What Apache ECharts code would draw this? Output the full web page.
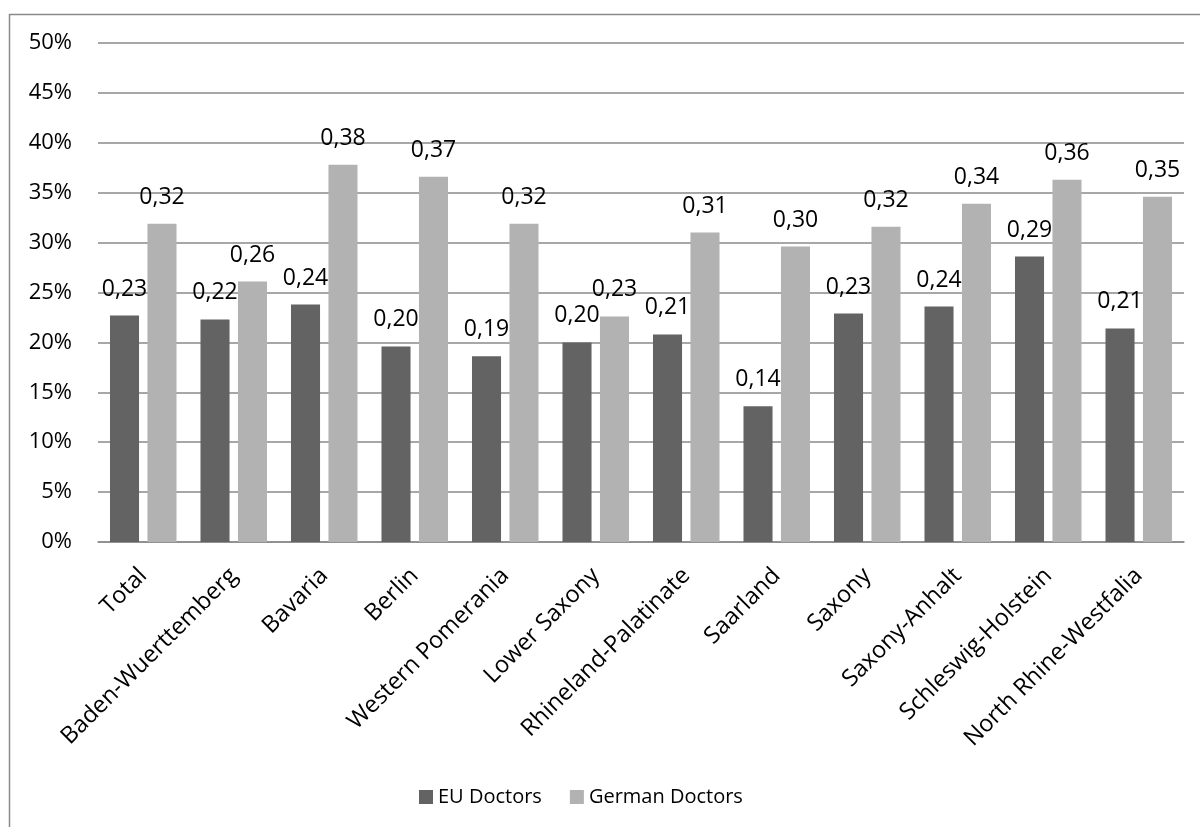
<!DOCTYPE html>
<html>
<head>
<meta charset="utf-8">
<script src="https://cdn.jsdelivr.net/npm/echarts@6/dist/echarts.min.js"></script>
<style>
  html, body { margin: 0; padding: 0; background: #fff; }
  #chart { width: 1200px; height: 827px; }
</style>
</head>
<body>
<div id="chart"></div>
<script>
const states = [
  "Total", "Baden-Wuerttemberg", "Bavaria", "Berlin", "Western Pomerania",
  "Lower Saxony", "Rhineland-Palatinate", "Saarland", "Saxony",
  "Saxony-Anhalt", "Schleswig-Holstein", "North Rhine-Westfalia"
];
const euDoctors = [0.227, 0.223, 0.238, 0.196, 0.186, 0.200, 0.208, 0.136, 0.229, 0.236, 0.286, 0.214];
const germanDoctors = [0.319, 0.261, 0.378, 0.366, 0.319, 0.226, 0.310, 0.296, 0.316, 0.339, 0.363, 0.346];
const yTicks = { min: 0, max: 0.5, interval: 0.05 };

const font = "Open Sans";
const labelStyle = {
  show: true,
  position: "top",
  distance: 15,
  color: "#000",
  fontFamily: font,
  fontSize: 23,
  formatter: (p) => p.value.toFixed(2).replace(".", ",")
};

const chart = echarts.init(document.getElementById("chart"));
chart.setOption({
  animation: false,
  textStyle: { fontFamily: font },
  graphic: [
    {
      type: "rect",
      shape: { x: 9.5, y: 14.5, width: 1400, height: 1000 },
      style: { fill: "none", stroke: "#8a8a8a", lineWidth: 1.5 },
      silent: true
    }
  ],
  grid: { left: 98, right: 16, top: 43, bottom: 285 },
  legend: {
    left: 414,
    top: 782,
    itemWidth: 14,
    itemHeight: 14,
    itemGap: 28,
    icon: "rect",
    textStyle: { fontFamily: font, fontSize: 20, color: "#000" },
    data: ["EU Doctors", "German Doctors"]
  },
  xAxis: {
    type: "category",
    data: states,
    axisLine: { lineStyle: { color: "#8a8a8a", width: 1.5 } },
    axisTick: { show: false },
    axisLabel: {
      rotate: 45,
      interval: 0,
      margin: 30,
      color: "#000",
      fontFamily: font,
      fontSize: 23.5
    }
  },
  yAxis: {
    type: "value",
    min: yTicks.min,
    max: yTicks.max,
    interval: yTicks.interval,
    axisLine: { show: false },
    axisTick: { show: false },
    splitLine: { lineStyle: { color: "#8a8a8a", width: 1.5 } },
    axisLabel: {
      margin: 26,
      color: "#000",
      fontFamily: font,
      fontSize: 22,
      formatter: (v) => Math.round(v * 100) + "%"
    }
  },
  series: [
    {
      name: "EU Doctors",
      type: "bar",
      data: euDoctors,
      itemStyle: { color: "#636363" },
      barGap: "29%",
      barCategoryGap: "26.5%",
      label: labelStyle
    },
    {
      name: "German Doctors",
      type: "bar",
      data: germanDoctors,
      itemStyle: { color: "#b2b2b2" },
      label: labelStyle
    }
  ]
});
</script>
</body>
</html>
